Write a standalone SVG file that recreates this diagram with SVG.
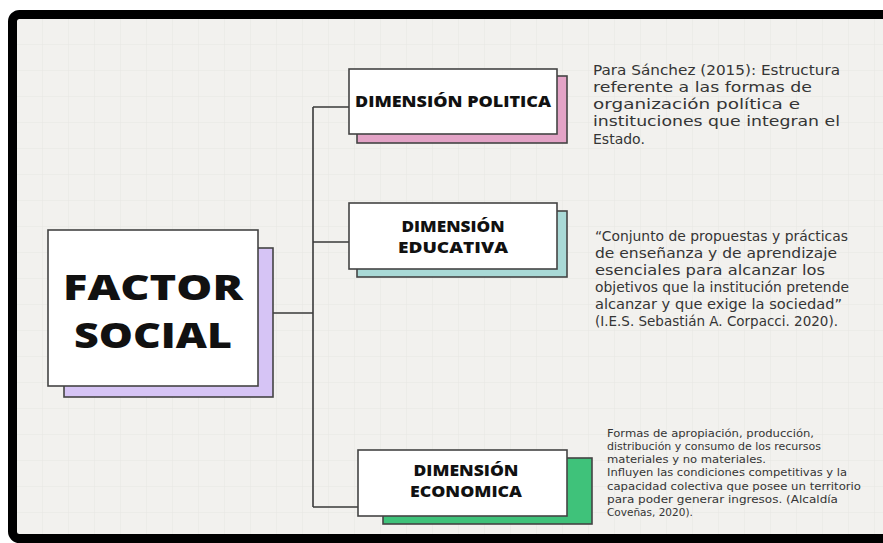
<svg xmlns="http://www.w3.org/2000/svg" width="883" height="543" viewBox="0 0 883 543">
  <defs>
    <pattern id="grid" x="17" y="19" width="26" height="26" patternUnits="userSpaceOnUse">
      <path d="M26 0V26M0 26H26" fill="none" stroke="#e7e6e3" stroke-width="1"/>
    </pattern>
    <style>
      .box { fill: #ffffff; stroke: #444444; stroke-width: 1.6; }
      .shadow { stroke: #444444; stroke-width: 1.6; }
      .head { font-family: "Open Sans", "DejaVu Sans", sans-serif; font-weight: 800; fill: #111111; text-anchor: middle; }
      .desc { font-family: "DejaVu Sans", "Open Sans", sans-serif; fill: #353535; }
      .conn { fill: none; stroke: #3a3a3a; stroke-width: 1.6; }
    </style>
  </defs>
  <rect x="0" y="0" width="883" height="543" fill="#ffffff"/>
  <rect x="12.5" y="14.5" width="900" height="524" rx="7" fill="#f2f1ee"/>
  <rect x="17" y="19" width="870" height="515" fill="url(#grid)"/>
  <rect x="12.5" y="14.5" width="900" height="524" rx="7" fill="none" stroke="#000000" stroke-width="9"/>

  <g id="connectors">
    <path class="conn" d="M273 313H313M313 107V507M313 107H349M313 242H349M313 507H358"/>
  </g>

  <g id="factor-social">
    <rect class="shadow" x="64" y="248" width="209" height="149" fill="#d6c4f5"/>
    <rect class="box" x="48" y="230" width="210" height="156"/>
    <text class="head" x="153" y="300" font-size="35" textLength="180" lengthAdjust="spacingAndGlyphs">FACTOR</text>
    <text class="head" x="153" y="348" font-size="35" textLength="158" lengthAdjust="spacingAndGlyphs">SOCIAL</text>
  </g>

  <g id="dimension-politica">
    <rect class="shadow" x="357" y="76" width="210" height="67" fill="#e3a3c6"/>
    <rect class="box" x="349" y="69" width="208" height="65"/>
    <text class="head" x="453" y="107" font-size="16" textLength="196" lengthAdjust="spacingAndGlyphs">DIMENSIÓN POLITICA</text>
  </g>

  <g id="dimension-educativa">
    <rect class="shadow" x="357" y="211" width="210" height="66" fill="#a9d9d6"/>
    <rect class="box" x="349" y="203" width="208" height="66"/>
    <text class="head" x="453" y="231.5" font-size="15" textLength="103" lengthAdjust="spacingAndGlyphs">DIMENSIÓN</text>
    <text class="head" x="453" y="252.5" font-size="15" textLength="110" lengthAdjust="spacingAndGlyphs">EDUCATIVA</text>
  </g>

  <g id="dimension-economica">
    <rect class="shadow" x="383" y="458" width="209" height="66" fill="#3fc27a"/>
    <rect class="box" x="358" y="450" width="209" height="66"/>
    <text class="head" x="466" y="476" font-size="15" textLength="105" lengthAdjust="spacingAndGlyphs">DIMENSIÓN</text>
    <text class="head" x="466" y="497" font-size="15" textLength="112" lengthAdjust="spacingAndGlyphs">ECONOMICA</text>
  </g>

  <g id="texto-politica">
    <text class="desc" font-size="14">
      <tspan x="593" y="75" textLength="247" lengthAdjust="spacingAndGlyphs">Para Sánchez (2015): Estructura</tspan>
      <tspan x="593" y="92" textLength="219" lengthAdjust="spacingAndGlyphs">referente a las formas de</tspan>
      <tspan x="593" y="109" textLength="207" lengthAdjust="spacingAndGlyphs">organización política e</tspan>
      <tspan x="593" y="126" textLength="247" lengthAdjust="spacingAndGlyphs">instituciones que integran el</tspan>
      <tspan x="593" y="144">Estado.</tspan>
    </text>
  </g>

  <g id="texto-educativa">
    <text class="desc" font-size="13.5">
      <tspan x="595" y="241" textLength="253" lengthAdjust="spacingAndGlyphs">“Conjunto de propuestas y prácticas</tspan>
      <tspan x="595" y="258" textLength="242" lengthAdjust="spacingAndGlyphs">de enseñanza y de aprendizaje</tspan>
      <tspan x="595" y="275" textLength="230" lengthAdjust="spacingAndGlyphs">esenciales para alcanzar los</tspan>
      <tspan x="595" y="292" textLength="254" lengthAdjust="spacingAndGlyphs">objetivos que la institución pretende</tspan>
      <tspan x="595" y="309" textLength="247" lengthAdjust="spacingAndGlyphs">alcanzar y que exige la sociedad”</tspan>
      <tspan x="595" y="326" textLength="243" lengthAdjust="spacingAndGlyphs">(I.E.S. Sebastián A. Corpacci. 2020).</tspan>
    </text>
  </g>

  <g id="texto-economica">
    <text class="desc" font-size="10.5">
      <tspan x="607" y="437" textLength="207" lengthAdjust="spacingAndGlyphs">Formas de apropiación, producción,</tspan>
      <tspan x="607" y="450" textLength="214" lengthAdjust="spacingAndGlyphs">distribución y consumo de los recursos</tspan>
      <tspan x="607" y="463" textLength="159" lengthAdjust="spacingAndGlyphs">materiales y no materiales.</tspan>
      <tspan x="607" y="476" textLength="240" lengthAdjust="spacingAndGlyphs">Influyen las condiciones competitivas y la</tspan>
      <tspan x="607" y="490" textLength="254" lengthAdjust="spacingAndGlyphs">capacidad colectiva que posee un territorio</tspan>
      <tspan x="607" y="503" textLength="231" lengthAdjust="spacingAndGlyphs">para poder generar ingresos. (Alcaldía</tspan>
      <tspan x="607" y="516">Coveñas, 2020).</tspan>
    </text>
  </g>
</svg>
